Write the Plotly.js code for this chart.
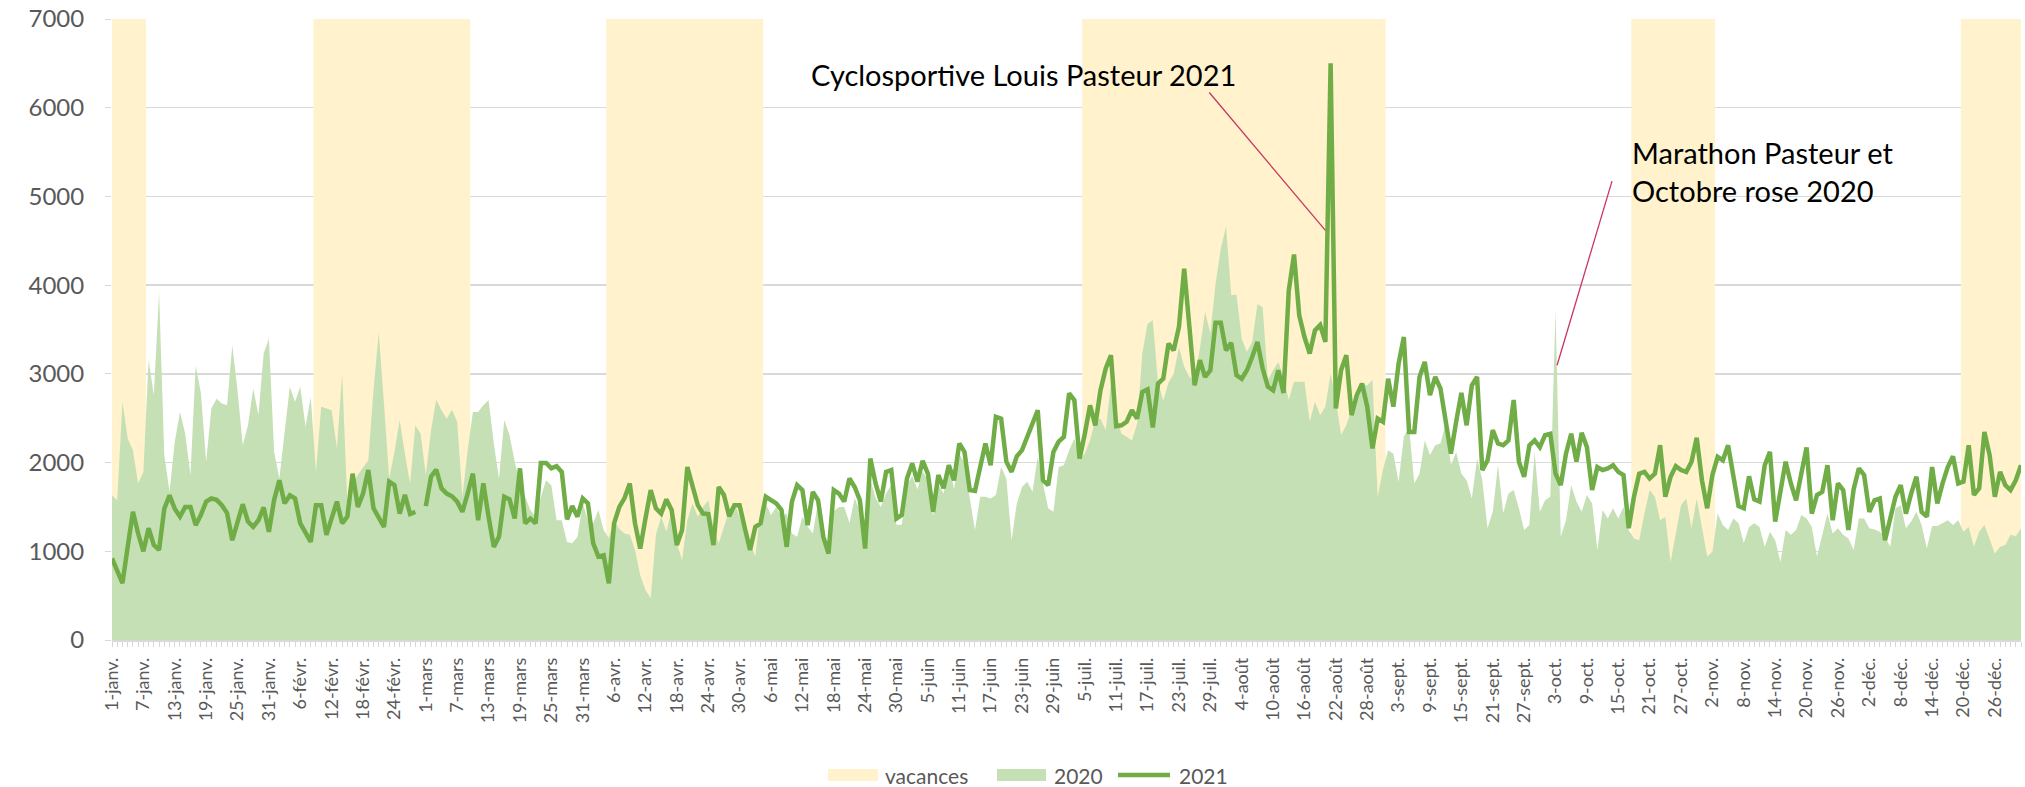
<!DOCTYPE html>
<html>
<head>
<meta charset="utf-8">
<script src="https://cdn.plot.ly/plotly-3.0.1.min.js"></script>
<style>html,body{margin:0;padding:0;background:#fff;}#chart{width:2025px;height:787px;}</style>
</head>
<body>
<div id="chart"></div>
<script>
// Month names (French Excel abbreviations) and days per month of 2020 (leap year)
const monthNames = ['janv.','févr.','mars','avr.','mai','juin','juil.','août','sept.','oct.','nov.','déc.'];
const monthDays = [31,29,31,30,31,30,31,31,30,31,30,31];

// Daily counts 2020 (area)
const values2020 = [
1630,1575,2685,2270,2140,1765,1895,3155,2760,3920,2085,1670,2235,2570,2325,1860,3095,2780,2010,2610,
2720,2665,2645,3320,2815,2195,2420,2835,2535,3230,3395,2120,1820,2325,2855,2685,2855,2405,2740,1895,
2630,2610,2590,2160,3005,1540,1765,1860,1950,2025,2815,3470,2665,1820,2120,2480,2100,1765,2420,2325,
1860,2365,2710,2590,2495,2595,2460,1615,2140,2570,2570,2645,2705,2215,1820,2480,2310,2010,1765,1615,
1465,1390,1615,1800,1745,1350,1350,1105,1090,1165,1540,1350,1315,1465,1240,1150,1350,1250,1200,1185,
1015,730,565,470,1185,1390,1220,1465,1090,900,1350,1540,1390,1500,1575,1275,1090,1275,1465,1540,
1390,1240,1090,940,1465,1540,1410,1500,1390,1425,1200,1165,1390,1280,1200,1550,1150,1000,1450,1500,
1500,1320,1600,1450,1050,1800,1600,1500,1650,1750,1300,1300,1750,1850,1700,1900,1800,1400,1750,1650,
2000,1700,2100,2000,1600,1240,1615,1615,1595,1635,1950,1820,1125,1540,1725,1785,1670,2065,1765,1485,
1445,1950,1970,2140,2270,2045,2100,2250,2480,2495,2365,2890,2555,2325,2290,2250,2440,3230,3565,3605,
2900,2700,2900,3000,3300,3080,2965,2930,3285,3700,3455,4015,4410,4665,3885,3895,3395,3245,3360,3785,
3755,2930,3040,3135,2965,2705,2910,2910,2910,2460,2685,2535,2630,3000,2700,2310,2420,2600,2780,2890,
2870,2930,1615,1915,2140,2100,1785,2290,2405,1765,1875,2250,2085,2195,2215,2440,1970,2120,1875,1800,
1595,2045,1800,1260,1445,1970,1430,1650,1690,1485,1240,1295,2120,1445,1575,1615,3715,1165,1350,1745,
1560,1445,1635,1540,1015,1465,1370,1485,1370,1500,1240,1145,1125,1425,1690,1615,1350,1390,880,1200,
1520,1595,1260,1595,1260,940,995,1425,1295,1240,1370,1315,1090,1275,1315,1275,1050,1220,1125,880,
1240,1185,1240,1410,1370,1275,940,1200,1425,1200,1260,1185,1145,1015,1370,1370,1260,1245,1220,1165,
1050,1485,1520,1260,1335,1445,1295,1030,1285,1285,1315,1350,1295,1350,1220,1275,1050,1220,1295,1145,
975,1050,1070,1185,1170,1260
];

// Daily counts 2021 (line); no 29 February in 2021
const values2021 = [
920,780,640,1050,1445,1200,1000,1260,1070,1015,1480,1630,1480,1390,1500,1500,1295,1410,1560,1595,
1580,1520,1430,1125,1350,1530,1335,1275,1350,1495,1220,1580,1800,1540,1630,1595,1315,1200,1105,1520,
1520,1185,1370,1560,1315,1390,1875,1500,1650,1915,1485,1370,1275,1785,1745,1425,1635,1420,1445,null,
1510,1840,1920,1710,1650,1620,1560,1445,1650,1875,1350,1765,1390,1050,1165,1615,1585,1370,1935,1315,
1370,1315,1995,1995,1935,1960,1895,1360,1510,1390,1595,1540,1090,940,955,640,1315,1500,1600,1765,
1315,1030,1370,1690,1485,1425,1585,1465,1070,1240,1950,1745,1520,1425,1420,1070,1725,1635,1395,1520,
1520,1260,1015,1275,1315,1615,1575,1540,1465,1050,1560,1745,1690,1295,1670,1575,1165,975,1690,1650,
1560,1820,1725,1575,1030,2045,1765,1560,1895,1915,1370,1410,1820,1990,1785,2020,1875,1445,1860,1710,
1970,1800,2215,2120,1690,1680,1950,2215,1970,2515,2495,2010,1895,2070,2140,2290,2420,2590,1800,1745,
2120,2235,2290,2780,2705,2045,2325,2645,2420,2815,3060,3210,2410,2420,2460,2590,2495,2795,2825,2395,
2890,2945,3340,3265,3530,4185,3530,2870,3155,2965,3040,3575,3575,3265,3350,2985,2945,3040,3190,3360,
3060,2855,2815,3040,2785,3940,4345,3660,3415,3230,3490,3550,3360,6500,2610,3040,3210,2535,2760,2890,
2630,2160,2495,2460,2945,2630,3115,3415,2345,2345,2965,3135,2760,2965,2835,2460,2100,2460,2785,2420,
2870,2965,1915,2025,2365,2215,2195,2250,2705,2010,1840,2195,2250,2175,2310,2325,1875,1745,2100,2325,
2010,2335,2175,1690,1950,1915,1935,1970,1895,1860,1260,1615,1875,1895,1820,1875,2195,1615,1840,1960,
1915,1895,2010,2280,1800,1485,1860,2065,2025,2195,1860,1510,1485,1845,1585,1560,1970,2120,1335,1650,
2010,1765,1575,1875,2170,1425,1635,1670,1970,1350,1765,1690,1240,1700,1935,1860,1445,1575,1595,1125,
1370,1615,1745,1425,1650,1840,1445,1390,1950,1540,1765,1950,2070,1765,1785,2195,1635,1710,2345,2085,
1615,1895,1745,1690,1800,1970
];

// School holiday periods (first day index, last day index in the year)
const vacStart = [0, 39, 95, 186, 291, 354];
const vacEnd   = [6, 68, 124, 243, 306, 365];
const vacLevel = 7000;

// Series names and colours
const seriesNames = ['vacances', '2020', '2021'];
const seriesColors = ['#FFF2CC', '#C5E0B4', '#70AD47'];

// Build day labels and indices
const dayLabels = [];
monthNames.forEach((m, mi) => { for (let d = 1; d <= monthDays[mi]; d++) dayLabels.push(d + '-' + m); });
const dayIdx = dayLabels.map((_, i) => i);
const vacValues = dayIdx.map(i => vacStart.some((s, k) => i >= s && i <= vacEnd[k]) ? vacLevel : 0);
const tickText = dayLabels.map((l, i) => (i % 6 === 0 ? l : ''));

const FONT = 'Lato, "Open Sans", sans-serif';
const GREY = '#595959';

const traces = [
  { x: dayIdx, y: vacValues, name: seriesNames[0], type: 'scatter', mode: 'lines',
    line: { width: 0, shape: 'hvh' }, fill: 'tozeroy', fillcolor: seriesColors[0], hoverinfo: 'skip' },
  { x: dayIdx, y: values2020, name: seriesNames[1], type: 'scatter', mode: 'lines',
    line: { width: 0, color: seriesColors[1] }, fill: 'tozeroy', fillcolor: seriesColors[1] },
  { x: dayIdx, y: values2021, name: seriesNames[2], type: 'scatter', mode: 'lines',
    line: { width: 4.5, color: seriesColors[2] }, connectgaps: false }
];

// Legend drawn in paper coordinates below the axis labels
const PW = 1909, PH = 621, PL = 112, PB = 640;
const px = v => (v - PL) / PW;
const py = v => (PB - v) / PH;
const legendShapes = [
  { type: 'rect', xref: 'paper', yref: 'paper', x0: px(828), x1: px(878), y0: py(781), y1: py(769),
    fillcolor: seriesColors[0], line: { width: 0 } },
  { type: 'rect', xref: 'paper', yref: 'paper', x0: px(997), x1: px(1046), y0: py(781), y1: py(769),
    fillcolor: seriesColors[1], line: { width: 0 } },
  { type: 'line', xref: 'paper', yref: 'paper', x0: px(1118), x1: px(1170), y0: py(775), y1: py(775),
    line: { color: seriesColors[2], width: 4.5 } }
];
const legendTexts = [[883, seriesNames[0]], [1052, seriesNames[1]], [1177, seriesNames[2]]].map(([x, t]) => ({
  x: px(x), y: py(775), xref: 'paper', yref: 'paper', text: t, showarrow: false,
  xanchor: 'left', yanchor: 'middle', font: { size: 21, color: GREY, family: FONT }
}));

const layout = {
  width: 2025, height: 787,
  margin: { l: 112, r: 4, t: 19, b: 147 },
  paper_bgcolor: '#fff', plot_bgcolor: '#fff',
  font: { family: FONT, color: GREY },
  showlegend: false,
  xaxis: {
    range: [0, 365], tickmode: 'array', tickvals: dayIdx, ticktext: tickText,
    tickangle: -90, tickfont: { size: 18, color: GREY, family: FONT },
    ticks: 'outside', ticklen: 5, tickcolor: '#d9d9d9', tickwidth: 1, ticklabelstandoff: 4,
    showline: true, linecolor: '#d9d9d9', linewidth: 1.5,
    showgrid: false, zeroline: false, fixedrange: true, automargin: false
  },
  yaxis: {
    range: [0, 7000], dtick: 1000, tickfont: { size: 24, color: GREY, family: FONT },
    showgrid: true, gridcolor: '#d9d9d9', gridwidth: 1.5,
    ticks: 'outside', ticklen: 6, tickcolor: '#d9d9d9', ticklabelstandoff: 16,
    showline: false, zeroline: false, fixedrange: true, automargin: false
  },
  annotations: [
    { x: 174.3, y: 6378, xref: 'x', yref: 'y', text: 'Cyclosportive Louis Pasteur 2021',
      showarrow: false, xanchor: 'center', yanchor: 'middle',
      font: { size: 29, color: '#000', family: FONT } },
    { x: 290.3, y: 5282, xref: 'x', yref: 'y', text: 'Marathon Pasteur et<br>Octobre rose 2020',
      showarrow: false, xanchor: 'left', yanchor: 'middle', align: 'left',
      font: { size: 29, color: '#000', family: FONT } }
  ].concat(legendTexts),
  shapes: [
    { type: 'line', xref: 'x', yref: 'y', x0: 209.8, y0: 6171, x1: 232, y1: 4617,
      line: { color: '#C9375F', width: 1.3 } },
    { type: 'line', xref: 'x', yref: 'y', x0: 286.8, y0: 5172, x1: 276.3, y1: 3097,
      line: { color: '#C9375F', width: 1.3 } }
  ].concat(legendShapes)
};

Plotly.newPlot('chart', traces, layout, { displayModeBar: false, staticPlot: true });
</script>
</body>
</html>
